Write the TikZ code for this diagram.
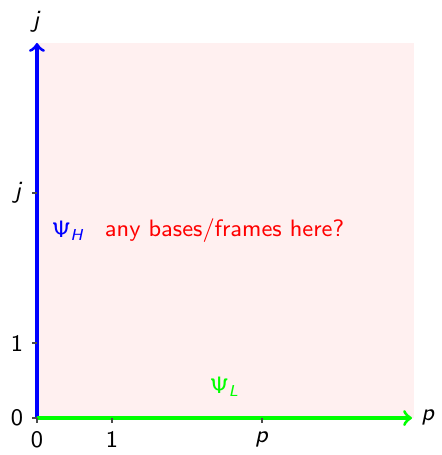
\documentclass[tikz,border=0pt]{standalone}
\renewcommand{\familydefault}{\sfdefault}
\DeclareMathAlphabet{\mathsfup}{OT1}{cmss}{m}{n}
\DeclareMathAlphabet{\mathsfit}{OT1}{cmss}{m}{sl}
\newcommand{\vj}{\mathsfit{j}}
\newcommand{\vp}{\mathsfit{p}}
\begin{document}
\begin{tikzpicture}[x=1cm,y=1cm,font=\fontsize{9}{11}\selectfont]
	\tikzset{axis_line/.style={line width=1.2pt,->},
		tick_mark/.style={thin,black!70}}
	\useasboundingbox (-0.493,-0.493) rectangle (5.387,5.573);
	\coordinate (O) at (0,0);
	\coordinate (xend) at (5,0);
	\coordinate (yend) at (0,5);
	\fill[red!6] (O) rectangle (5.03,5);
	\draw[axis_line,blue] (O)--(yend);
	\draw[axis_line,green] (O)--(xend);
	\node[anchor=west] (plab) at (xend) {$\vp$};
	\node[anchor=south,inner sep=4pt] (jlab) at (yend) {$\vj$};
	\draw[tick_mark] (1,0)--(1,-0.06);
	\draw[tick_mark] (3,0)--(3,-0.06);
	\draw[tick_mark] (0,0)--(0,-0.06);
	\draw[tick_mark] (0,1)--(-0.06,1);
	\draw[tick_mark] (0,3)--(-0.06,3);
	\draw[tick_mark] (0,0)--(-0.06,0);
	\node[below] (x0) at (0,-0.06) {0};
	\node[below] (x1) at (1,-0.06) {1};
	\node[below] (xp) at (3,-0.06) {$\vp$};
	\node[left] (y0) at (-0.06,0) {0};
	\node[left] (y1) at (-0.06,1) {1};
	\node[left] (yj) at (-0.06,3) {$\vj$};
	\node[blue] (psih) at (0.42,2.5) {$\mathsfup{\Psi}_{\mathsfit{H}}$};
	\node[red] (quest) at (2.5,2.5) {any bases/frames here?};
	\node[green] (psil) at (2.5,0.42) {$\mathsfup{\Psi}_{\mathsfit{L}}$};
\end{tikzpicture}
\end{document}
